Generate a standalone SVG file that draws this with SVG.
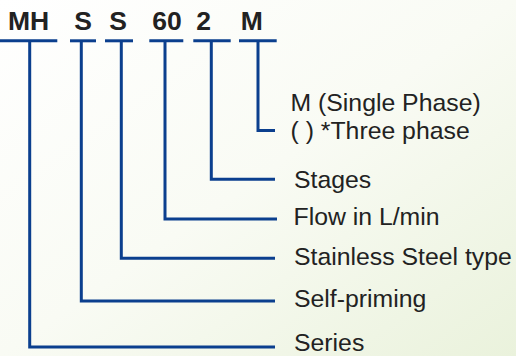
<svg xmlns="http://www.w3.org/2000/svg" width="516" height="356" viewBox="0 0 516 356">
<defs>
<linearGradient id="bg" x1="0" y1="0" x2="1" y2="1">
<stop offset="0" stop-color="#ffffff"/>
<stop offset="0.5" stop-color="#f9fbf4"/>
<stop offset="1" stop-color="#eaf2dc"/>
</linearGradient>
<style>
.code{font-family:"Liberation Sans",Arial,sans-serif;font-weight:bold;font-size:26.5px;fill:#222222;text-anchor:middle}
.lbl{font-family:"Liberation Sans",Arial,sans-serif;font-size:24.8px;fill:#222222}
.ln{fill:none;stroke:#0b3f8e;stroke-width:3}
</style>
</defs>
<rect width="516" height="356" fill="url(#bg)"/>
<g id="code-MH"><text class="code" x="28.5" y="30">MH</text><line class="ln" x1="0" y1="40.8" x2="57.3" y2="40.8"/></g>
<g id="code-S1"><text class="code" x="83" y="30">S</text><line class="ln" x1="70" y1="40.8" x2="96" y2="40.8"/></g>
<g id="code-S2"><text class="code" x="118" y="30">S</text><line class="ln" x1="105" y1="40.8" x2="133" y2="40.8"/></g>
<g id="code-60"><text class="code" x="167" y="30">60</text><line class="ln" x1="149.3" y1="40.8" x2="183.3" y2="40.8"/></g>
<g id="code-2"><text class="code" x="203.5" y="30">2</text><line class="ln" x1="193.3" y1="40.8" x2="230.7" y2="40.8"/></g>
<g id="code-M"><text class="code" x="251.7" y="30">M</text><line class="ln" x1="239" y1="40.8" x2="276.7" y2="40.8"/></g>
<g id="connectors">
<polyline class="ln" points="258,40.8 258,130.5 275,130.5"/>
<polyline class="ln" points="211.3,40.8 211.3,179.3 275,179.3"/>
<polyline class="ln" points="165,40.8 165,219 277,219"/>
<polyline class="ln" points="121.3,40.8 121.3,258.3 275,258.3"/>
<polyline class="ln" points="81.3,40.8 81.3,301 275,301"/>
<polyline class="ln" points="29.7,40.8 29.7,347 275,347"/>
</g>
<g id="label-phase"><text class="lbl" x="290.5" y="111">M (Single Phase)</text><text class="lbl" x="290.5" y="138.5">( ) *Three phase</text></g>
<g id="label-stages"><text class="lbl" x="294" y="188.3">Stages</text></g>
<g id="label-flow"><text class="lbl" x="293.5" y="224.5">Flow in L/min</text></g>
<g id="label-steel"><text class="lbl" x="294" y="265">Stainless Steel type</text></g>
<g id="label-self"><text class="lbl" x="294" y="306.7">Self-priming</text></g>
<g id="label-series"><text class="lbl" x="294" y="351">Series</text></g>
</svg>
